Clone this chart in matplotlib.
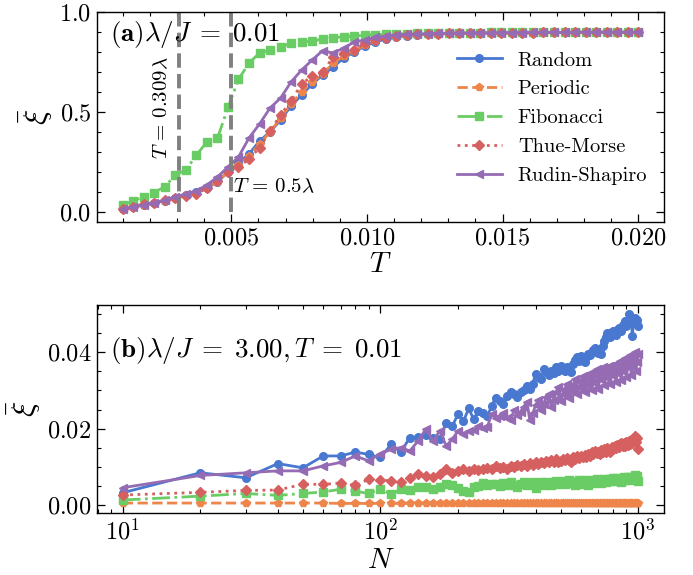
import numpy as np
import matplotlib
matplotlib.use('Agg')
import matplotlib.pyplot as plt
from matplotlib.ticker import MultipleLocator, LogLocator, NullFormatter

plt.rcParams['font.family'] = 'serif'
plt.rcParams['font.serif'] = ['cmr10', 'DejaVu Serif']
plt.rcParams['mathtext.fontset'] = 'cm'
plt.rcParams['axes.formatter.use_mathtext'] = True
plt.rcParams['axes.unicode_minus'] = False

labels = ['Random', 'Periodic', 'Fibonacci', 'Thue-Morse', 'Rudin-Shapiro']
colors = ['#4878d0', '#ee854a', '#6acc64', '#d65f5f', '#956cb4']
styles = ['-', '--', '-.', ':', '-']
markers = ['o', 'p', 's', 'D', '<']
msizes = [5.5, 5.5, 5.5, 5.0, 5.5]

# (a) temperature sweep at lambda/J = 0.01
T = np.linspace(0.001, 0.020, 50)
xi_T_random = [0.015, 0.025, 0.035, 0.045, 0.056, 0.070, 0.085, 0.100, 0.120, 0.150,
               0.200, 0.245, 0.290, 0.355, 0.400, 0.460, 0.530, 0.585, 0.640, 0.685,
               0.725, 0.770, 0.800, 0.830, 0.850, 0.865, 0.875, 0.882, 0.887, 0.890,
               0.892, 0.893, 0.894, 0.895, 0.895, 0.896, 0.896, 0.897, 0.897, 0.897,
               0.898, 0.898, 0.898, 0.898, 0.899, 0.899, 0.899, 0.899, 0.899, 0.899]
xi_T_periodic = [0.014, 0.024, 0.036, 0.046, 0.057, 0.070, 0.083, 0.097, 0.120, 0.152,
                 0.200, 0.235, 0.280, 0.340, 0.400, 0.470, 0.540, 0.600, 0.650, 0.690,
                 0.745, 0.780, 0.805, 0.835, 0.855, 0.868, 0.877, 0.883, 0.887, 0.890,
                 0.892, 0.893, 0.894, 0.895, 0.895, 0.896, 0.896, 0.897, 0.897, 0.897,
                 0.898, 0.898, 0.898, 0.898, 0.899, 0.899, 0.899, 0.899, 0.899, 0.899]
xi_T_fibonacci = [0.035, 0.055, 0.077, 0.097, 0.127, 0.185, 0.210, 0.285, 0.350, 0.368,
                  0.523, 0.663, 0.745, 0.795, 0.810, 0.825, 0.845, 0.850, 0.855, 0.865,
                  0.872, 0.877, 0.880, 0.885, 0.887, 0.889, 0.891, 0.892, 0.893, 0.894,
                  0.895, 0.896, 0.896, 0.897, 0.897, 0.898, 0.898, 0.898, 0.899, 0.899,
                  0.899, 0.899, 0.900, 0.900, 0.900, 0.900, 0.900, 0.900, 0.900, 0.900]
xi_T_thuemorse = [0.013, 0.023, 0.040, 0.045, 0.058, 0.070, 0.080, 0.090, 0.120, 0.155,
                  0.200, 0.225, 0.265, 0.320, 0.405, 0.485, 0.555, 0.640, 0.680, 0.700,
                  0.775, 0.795, 0.810, 0.843, 0.862, 0.872, 0.880, 0.885, 0.888, 0.890,
                  0.892, 0.893, 0.894, 0.895, 0.895, 0.896, 0.896, 0.897, 0.897, 0.897,
                  0.898, 0.898, 0.898, 0.898, 0.899, 0.899, 0.899, 0.899, 0.899, 0.899]
xi_T_rudin = [0.015, 0.025, 0.035, 0.045, 0.058, 0.075, 0.090, 0.105, 0.135, 0.175,
              0.225, 0.275, 0.370, 0.440, 0.520, 0.570, 0.650, 0.710, 0.760, 0.807,
              0.795, 0.820, 0.850, 0.860, 0.873, 0.880, 0.885, 0.888, 0.890, 0.892,
              0.893, 0.894, 0.895, 0.895, 0.896, 0.896, 0.897, 0.897, 0.897, 0.898,
              0.898, 0.898, 0.898, 0.899, 0.899, 0.899, 0.899, 0.899, 0.899, 0.899]

# (b) size scan at lambda/J = 3.00, T = 0.01
N = np.arange(10, 1001, 10)
xi_N_random = [0.0033, 0.0085, 0.0072, 0.0109, 0.0098, 0.0129, 0.0129, 0.0139, 0.0133, 0.0125,
               0.0159, 0.0139, 0.0177, 0.0178, 0.0183, 0.0177, 0.0173, 0.0216, 0.0207, 0.0238,
               0.0220, 0.0253, 0.0225, 0.0247, 0.0240, 0.0232, 0.0260, 0.0281, 0.0272, 0.0264,
               0.0285, 0.0295, 0.0290, 0.0283, 0.0295, 0.0302, 0.0312, 0.0305, 0.0318, 0.0342,
               0.0335, 0.0330, 0.0356, 0.0348, 0.0340, 0.0352, 0.0345, 0.0360, 0.0352, 0.0365,
               0.0355, 0.0350, 0.0362, 0.0358, 0.0347, 0.0370, 0.0380, 0.0386, 0.0378, 0.0390,
               0.0384, 0.0375, 0.0388, 0.0395, 0.0392, 0.0400, 0.0405, 0.0412, 0.0402, 0.0398,
               0.0408, 0.0395, 0.0415, 0.0430, 0.0440, 0.0451, 0.0445, 0.0440, 0.0452, 0.0456,
               0.0450, 0.0446, 0.0458, 0.0462, 0.0464, 0.0455, 0.0470, 0.0472, 0.0482, 0.0468,
               0.0475, 0.0499, 0.0488, 0.0478, 0.0443, 0.0480, 0.0490, 0.0475, 0.0485, 0.0469]
xi_N_periodic = [0.0006, 0.0006, 0.0006, 0.0006, 0.0006, 0.0006, 0.0005, 0.0005, 0.0005, 0.0005,
                 0.0005, 0.0005, 0.0005, 0.0005, 0.0005, 0.0005, 0.0005, 0.0005, 0.0005, 0.0005,
                 0.0005, 0.0005, 0.0005, 0.0005, 0.0005, 0.0005, 0.0005, 0.0005, 0.0005, 0.0005,
                 0.0005, 0.0005, 0.0005, 0.0005, 0.0005, 0.0005, 0.0005, 0.0005, 0.0005, 0.0005,
                 0.0005, 0.0005, 0.0005, 0.0005, 0.0005, 0.0005, 0.0005, 0.0005, 0.0005, 0.0005,
                 0.0005, 0.0005, 0.0005, 0.0005, 0.0005, 0.0005, 0.0005, 0.0005, 0.0005, 0.0005,
                 0.0005, 0.0005, 0.0005, 0.0005, 0.0005, 0.0005, 0.0005, 0.0005, 0.0005, 0.0005,
                 0.0005, 0.0005, 0.0005, 0.0005, 0.0005, 0.0005, 0.0005, 0.0005, 0.0005, 0.0005,
                 0.0005, 0.0005, 0.0005, 0.0005, 0.0005, 0.0005, 0.0005, 0.0005, 0.0005, 0.0005,
                 0.0005, 0.0005, 0.0005, 0.0005, 0.0005, 0.0005, 0.0005, 0.0005, 0.0005, 0.0005]
xi_N_fibonacci = [0.0014, 0.0024, 0.0031, 0.0026, 0.0031, 0.0035, 0.0042, 0.0037, 0.0031, 0.0042,
                  0.0029, 0.0042, 0.0039, 0.0049, 0.0049, 0.0042, 0.0049, 0.0055, 0.0052, 0.0046,
                  0.0037, 0.0035, 0.0049, 0.0050, 0.0058, 0.0052, 0.0055, 0.0055, 0.0050, 0.0058,
                  0.0052, 0.0060, 0.0054, 0.0048, 0.0056, 0.0060, 0.0052, 0.0058, 0.0062, 0.0046,
                  0.0056, 0.0060, 0.0054, 0.0062, 0.0057, 0.0052, 0.0060, 0.0064, 0.0056, 0.0059,
                  0.0063, 0.0055, 0.0061, 0.0066, 0.0058, 0.0062, 0.0054, 0.0060, 0.0065, 0.0057,
                  0.0062, 0.0066, 0.0058, 0.0053, 0.0061, 0.0066, 0.0059, 0.0063, 0.0068, 0.0060,
                  0.0065, 0.0058, 0.0064, 0.0069, 0.0062, 0.0066, 0.0070, 0.0063, 0.0067, 0.0071,
                  0.0064, 0.0068, 0.0072, 0.0065, 0.0069, 0.0062, 0.0068, 0.0073, 0.0066, 0.0070,
                  0.0074, 0.0067, 0.0071, 0.0075, 0.0068, 0.0072, 0.0080, 0.0070, 0.0076, 0.0064]
xi_N_thuemorse = [0.0027, 0.0034, 0.0039, 0.0040, 0.0055, 0.0055, 0.0058, 0.0052, 0.0068, 0.0066,
                  0.0064, 0.0061, 0.0072, 0.0081, 0.0077, 0.0075, 0.0081, 0.0094, 0.0085, 0.0090,
                  0.0094, 0.0090, 0.0095, 0.0092, 0.0095, 0.0098, 0.0094, 0.0103, 0.0098, 0.0100,
                  0.0096, 0.0104, 0.0100, 0.0106, 0.0102, 0.0108, 0.0104, 0.0110, 0.0106, 0.0112,
                  0.0108, 0.0114, 0.0110, 0.0116, 0.0112, 0.0118, 0.0113, 0.0120, 0.0114, 0.0116,
                  0.0122, 0.0118, 0.0124, 0.0119, 0.0112, 0.0126, 0.0122, 0.0128, 0.0124, 0.0130,
                  0.0126, 0.0132, 0.0127, 0.0135, 0.0130, 0.0138, 0.0133, 0.0142, 0.0136, 0.0140,
                  0.0135, 0.0144, 0.0138, 0.0146, 0.0140, 0.0150, 0.0144, 0.0140, 0.0152, 0.0146,
                  0.0156, 0.0150, 0.0158, 0.0152, 0.0160, 0.0164, 0.0155, 0.0162, 0.0156, 0.0166,
                  0.0158, 0.0168, 0.0160, 0.0170, 0.0162, 0.0174, 0.0181, 0.0165, 0.0176, 0.0148]
xi_N_rudin = [0.0046, 0.0078, 0.0085, 0.0090, 0.0090, 0.0103, 0.0112, 0.0129, 0.0116, 0.0135,
              0.0146, 0.0151, 0.0142, 0.0168, 0.0199, 0.0168, 0.0194, 0.0155, 0.0173, 0.0194,
              0.0186, 0.0194, 0.0196, 0.0207, 0.0202, 0.0205, 0.0238, 0.0229, 0.0232, 0.0240,
              0.0228, 0.0222, 0.0250, 0.0235, 0.0245, 0.0258, 0.0270, 0.0222, 0.0240, 0.0262,
              0.0275, 0.0248, 0.0265, 0.0282, 0.0290, 0.0258, 0.0275, 0.0295, 0.0310, 0.0272,
              0.0290, 0.0305, 0.0318, 0.0280, 0.0298, 0.0315, 0.0330, 0.0290, 0.0310, 0.0325,
              0.0338, 0.0295, 0.0315, 0.0332, 0.0345, 0.0300, 0.0322, 0.0340, 0.0355, 0.0305,
              0.0330, 0.0348, 0.0360, 0.0315, 0.0335, 0.0352, 0.0365, 0.0318, 0.0340, 0.0358,
              0.0370, 0.0322, 0.0345, 0.0362, 0.0378, 0.0328, 0.0350, 0.0368, 0.0385, 0.0335,
              0.0360, 0.0378, 0.0392, 0.0340, 0.0365, 0.0385, 0.0400, 0.0350, 0.0375, 0.0395]

series_T = [xi_T_random, xi_T_periodic, xi_T_fibonacci, xi_T_thuemorse, xi_T_rudin]
series_N = [xi_N_random, xi_N_periodic, xi_N_fibonacci, xi_N_thuemorse, xi_N_rudin]

fig = plt.figure(figsize=(6.93, 5.75), dpi=100)
ax1 = fig.add_axes([0.140, 0.614, 0.818, 0.365])
ax2 = fig.add_axes([0.140, 0.108, 0.818, 0.362])


def style_axis(ax):
    ax.tick_params(which='both', direction='in', top=True, right=True, labelsize=17.5)
    ax.tick_params(which='major', length=6, width=0.9, pad=4)
    ax.tick_params(which='minor', length=3, width=0.8)
    for sp in ax.spines.values():
        sp.set_linewidth(1.0)


for y, lab, c, ls, m, s in zip(series_T, labels, colors, styles, markers, msizes):
    ax1.plot(T, y, ls=ls, marker=m, color=c, lw=2.0, ms=s, label=lab)
ax1.vlines([0.309 * 0.01, 0.5 * 0.01], 0, 1, colors='gray', linestyles='--', lw=2.8)
ax1.text(0.00245, 0.52, r'$T\,=\,0.309\lambda$', rotation=90, ha='center', va='center',
         fontsize=15)
ax1.text(0.00507, 0.125, r'$T\,=\,0.5\lambda$', ha='left', va='center', fontsize=15)
ax1.text(0.023, 0.895, r'$(\mathbf{a})\lambda/J\;=\;0.01$', transform=ax1.transAxes,
         ha='left', va='center', fontsize=19.5)
ax1.set_ylim(-0.05, 1.0)
ax1.xaxis.set_major_locator(MultipleLocator(0.005))
ax1.xaxis.set_minor_locator(MultipleLocator(0.001))
ax1.yaxis.set_major_locator(MultipleLocator(0.5))
ax1.yaxis.set_minor_locator(MultipleLocator(0.1))
ax1.set_xlabel(r'$T$', fontsize=21)
ax1.set_ylabel(r'$\bar{\xi}$', fontsize=23)
ax1.xaxis.set_label_coords(0.5, -0.14)
ax1.yaxis.set_label_coords(-0.074, 0.5)
style_axis(ax1)
ax1.legend(loc='upper left', bbox_to_anchor=(0.617, 0.862), frameon=False, fontsize=14.7,
           handlelength=2.2, handletextpad=0.78, labelspacing=0.52, borderpad=0)

for y, lab, c, ls, m, s in zip(series_N, labels, colors, styles, markers, msizes):
    ax2.plot(N, y, ls=ls, marker=m, color=c, lw=2.0, ms=s, label=lab)
ax2.set_xscale('log')
ax2.text(0.023, 0.779, r'$(\mathbf{b})\lambda/J\;=\;3.00, T\;=\;0.01$', transform=ax2.transAxes,
         ha='left', va='center', fontsize=19.5)
ax2.yaxis.set_major_locator(MultipleLocator(0.02))
ax2.yaxis.set_minor_locator(MultipleLocator(0.005))
ax2.xaxis.set_minor_locator(LogLocator(base=10, subs=np.arange(2, 10)))
ax2.xaxis.set_minor_formatter(NullFormatter())
ax2.set_xlabel(r'$N$', fontsize=21)
ax2.set_ylabel(r'$\bar{\xi}$', fontsize=23)
ax2.xaxis.set_label_coords(0.5, -0.165)
ax2.yaxis.set_label_coords(-0.095, 0.5)
style_axis(ax2)

fig.savefig('out.png', dpi=100)
